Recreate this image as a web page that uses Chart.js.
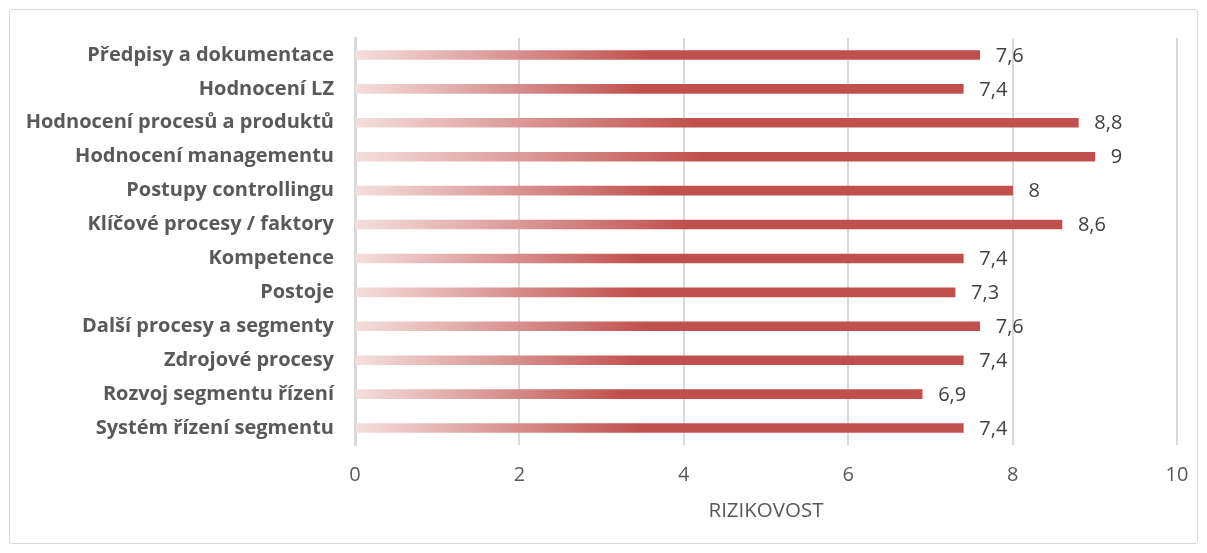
<!DOCTYPE html>
<html>
<head>
<meta charset="utf-8">
<script src="https://cdn.jsdelivr.net/npm/chart.js@4.4.1/dist/chart.umd.min.js"></script>
<style>
  html, body { margin: 0; padding: 0; background: #fff; }
  #wrap { position: relative; width: 1207px; height: 553px; }
  #frame { position: absolute; left: 9px; top: 9px; width: 1187px; height: 533px; border: 1px solid #d9d9d9; border-radius: 3px; pointer-events: none; }
</style>
</head>
<body>
<div id="wrap">
  <canvas id="riskChart" width="1207" height="553"></canvas>
  <div id="frame"></div>
</div>
<script>
const categories = [
  'Předpisy a dokumentace',
  'Hodnocení LZ',
  'Hodnocení procesů a produktů',
  'Hodnocení managementu',
  'Postupy controllingu',
  'Klíčové procesy / faktory',
  'Kompetence',
  'Postoje',
  'Další procesy a segmenty',
  'Zdrojové procesy',
  'Rozvoj segmentu řízení',
  'Systém řízení segmentu'
];
const riskValues = [7.6, 7.4, 8.8, 9, 8, 8.6, 7.4, 7.3, 7.6, 7.4, 6.9, 7.4];
const xTicks = [0, 2, 4, 6, 8, 10];
const axisTitle = 'RIZIKOVOST';

const FONT = "'Open Sans', 'Liberation Sans', sans-serif";

function barGradient(context) {
  const chart = context.chart;
  const area = chart.chartArea;
  if (!area || context.parsed == null) return '#C0504D';
  const x0 = chart.scales.x.getPixelForValue(0);
  const x1 = chart.scales.x.getPixelForValue(context.parsed.x);
  const g = chart.ctx.createLinearGradient(x0, 0, x1, 0);
  g.addColorStop(0, '#F4DFDE');
  g.addColorStop(0.47, '#C0504D');
  g.addColorStop(1, '#C0504D');
  return g;
}

// value labels next to bar ends, with decimal comma
const valueLabels = {
  id: 'valueLabels',
  afterDatasetsDraw(chart) {
    const ctx = chart.ctx;
    const meta = chart.getDatasetMeta(0);
    ctx.save();
    ctx.font = '20px ' + FONT;
    ctx.fillStyle = '#404040';
    ctx.textBaseline = 'middle';
    ctx.textAlign = 'left';
    meta.data.forEach((bar, i) => {
      const txt = String(riskValues[i]).replace('.', ',');
      ctx.fillText(txt, bar.x + 16, bar.y + 1);
    });
    ctx.restore();
  }
};

const ctx = document.getElementById('riskChart').getContext('2d');
new Chart(ctx, {
  type: 'bar',
  data: {
    labels: categories,
    datasets: [{
      data: riskValues,
      backgroundColor: barGradient,
      barThickness: 9,
      borderWidth: 0
    }]
  },
  options: {
    indexAxis: 'y',
    responsive: false,
    animation: false,
    layout: { padding: { top: 38, right: 30, bottom: 30, left: 10 } },
    plugins: { legend: { display: false }, tooltip: { enabled: false } },
    scales: {
      x: {
        min: 0,
        max: 10,
        afterBuildTicks: (s) => { s.ticks = xTicks.map(v => ({ value: v })); },
        grid: { color: '#d9d9d9', lineWidth: 2, drawTicks: false },
        border: { display: false },
        ticks: { color: '#595959', font: { family: FONT, size: 20 }, padding: 18 },
        title: { display: true, text: axisTitle, color: '#595959', font: { family: FONT, size: 20.5 }, padding: { top: 10, bottom: 0 } },
        afterFit: (s) => { s.height = 78; }
      },
      y: {
        grid: { display: false },
        border: { color: '#d9d9d9', width: 3 },
        ticks: { color: '#595959', font: { family: FONT, size: 20, weight: 'bold' }, padding: 13 },
        afterFit: (s) => { s.width = 345; }
      }
    }
  },
  plugins: [valueLabels]
});
</script>
</body>
</html>
